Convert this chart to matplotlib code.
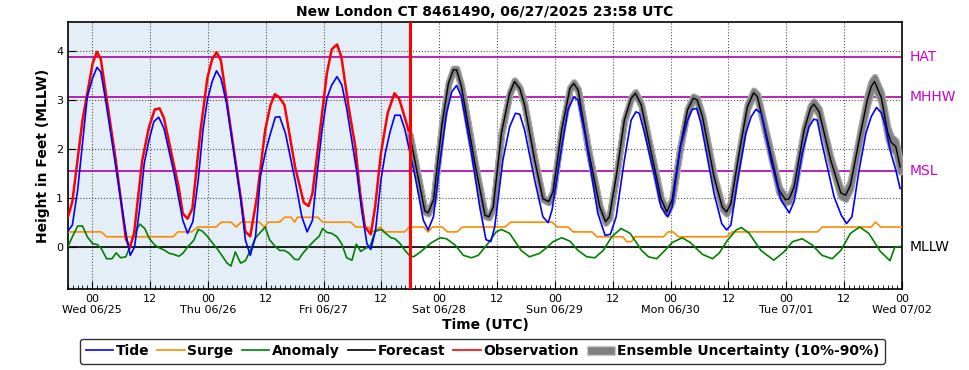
import matplotlib
matplotlib.use('Agg')
import matplotlib.pyplot as plt
from matplotlib.lines import Line2D
from matplotlib.patches import Patch
from matplotlib.ticker import MultipleLocator
import matplotlib.transforms as mtransforms

# Hours since Wed 06/25 00:00 UTC, values in feet above MLLW
obs_t = [-5, -4.1, -2.0, 0.1, 1.0, 1.8, 4.9, 7.0, 7.8, 8.7, 10.4, 11.8, 13.0, 14.0, 14.9,
         18.0, 18.8, 19.8, 20.8, 22.5, 23.9, 24.9, 25.8, 26.7, 29.7, 30.8, 31.8, 32.8,
         34.2, 35.9, 37.0, 37.9, 38.8, 39.9, 42.1, 43.9, 44.9, 45.7, 47.7, 48.7, 49.7,
         50.8, 51.7, 53.2, 54.6, 55.6, 56.6, 57.8, 58.7, 59.9, 61.3, 62.7, 63.7, 64.6,
         65.9, 67.5, 68.8]
obs_v = [0.61, 0.92, 2.59, 3.75, 3.99, 3.84, 1.77, 0.16, -0.03, 0.27, 1.77, 2.45, 2.81, 2.83, 2.63,
         1.19, 0.68, 0.57, 0.78, 2.39, 3.45, 3.84, 3.98, 3.82, 1.77, 1.02, 0.30, 0.21,
         1.02, 2.39, 2.90, 3.12, 3.06, 2.90, 1.63, 0.90, 0.83, 1.09, 2.73, 3.55, 4.04,
         4.14, 3.89, 2.86, 2.04, 1.09, 0.40, 0.25, 0.81, 1.91, 2.73, 3.14, 3.02, 2.73,
         2.28, 1.45, 0.78]

tide_t = [-5, -4.1, -3.0, -2.0, -1.0, 0.1, 1.0, 1.8, 2.8, 4.9, 7.0, 7.9, 8.8, 9.9, 10.8, 11.8,
          12.8, 13.8, 14.9, 17.0, 18.8, 19.8, 20.9, 22.0, 23.0, 23.9, 24.9, 25.8, 26.7, 27.9,
          30.8, 31.8, 32.8, 33.9, 34.9, 35.9, 36.8, 38.0, 38.9, 40.1, 42.1, 43.5, 44.6, 45.7,
          46.6, 47.7, 48.7, 49.7, 50.8, 51.8, 52.8, 54.9, 55.9, 57.0, 57.8, 58.8, 59.9, 60.8,
          61.8, 62.8, 63.9, 64.9, 67.0, 68.7, 69.7, 70.8, 72.2, 73.5, 74.6, 75.6, 76.6, 78.7,
          80.4, 81.7, 82.7, 83.5, 85.2, 86.6, 87.8, 88.7, 89.7, 91.8, 93.5, 94.6, 95.4, 97.4,
          98.7, 99.9, 100.8, 102.2, 104.9, 106.4, 107.5, 108.7, 110.4, 111.8, 112.8, 113.5,
          114.6, 116.7, 118.0, 119.4, 120.3, 122.0, 123.5, 124.5, 125.4, 126.3, 129.0, 130.6,
          131.6, 132.5, 133.9, 135.6, 136.7, 137.7, 138.8, 140.8, 142.9, 144.6, 145.6, 147.3,
          148.7, 149.7, 150.4, 151.4, 153.9, 155.4, 156.5, 157.6, 159.1, 160.5, 161.6, 162.7,
          163.7, 164.6, 165.5, 166.7, 167.6]
tide_v = [0.32, 0.44, 1.16, 2.11, 3.07, 3.45, 3.67, 3.58, 3.00, 1.63, 0.27, -0.18, -0.01, 0.81, 1.70, 2.18,
          2.56, 2.65, 2.42, 1.50, 0.54, 0.27, 0.51, 1.36, 2.39, 3.00, 3.38, 3.60, 3.45, 2.93,
          0.98, 0.13, -0.18, 0.20, 1.43, 1.91, 2.25, 2.65, 2.66, 2.32, 1.36, 0.61, 0.30, 0.54,
          1.43, 2.39, 3.04, 3.31, 3.48, 3.31, 2.83, 1.53, 0.75, 0.06, -0.06, 0.34, 1.36, 1.91,
          2.35, 2.69, 2.69, 2.39, 1.43, 0.54, 0.34, 0.61, 1.77, 2.73, 3.17, 3.30, 3.07, 1.91,
          0.81, 0.14, 0.10, 0.40, 1.77, 2.45, 2.73, 2.71, 2.39, 1.36, 0.61, 0.49, 0.75, 2.04,
          2.80, 3.06, 3.00, 2.32, 0.68, 0.23, 0.25, 0.61, 1.77, 2.59, 2.76, 2.73,
          2.32, 1.43, 0.81, 0.61, 0.81, 2.04, 2.59, 2.81, 2.83, 2.52, 1.09, 0.47,
          0.34, 0.44, 1.36, 2.32, 2.66, 2.81, 2.73, 1.77, 0.95, 0.69, 0.92, 1.91,
          2.45, 2.61, 2.59, 2.11, 1.02, 0.64, 0.47, 0.61, 1.57, 2.32, 2.66, 2.85,
          2.74, 2.45, 1.98, 1.57, 1.19]

surge_t = [-5, 1.9, 3.0, 16.8, 17.8, 20.6, 21.9, 25.7, 26.8, 28.8, 29.9, 30.9, 34.7, 35.7, 36.6,
           38.9, 39.9, 41.3, 42.0, 42.6, 46.8, 47.8, 53.6, 54.7, 57.3, 58.2, 59.8, 60.7, 64.8,
           65.8, 68.8, 69.7, 70.6, 72.6, 73.7, 75.7, 76.8, 85.7, 86.8, 95.4, 96.5, 98.7, 99.8,
           103.7, 104.7, 110.1, 110.9, 111.9, 112.6, 118.5, 119.5, 120.5, 121.6, 131.6, 132.8,
           150.5, 151.4, 161.6, 162.5, 163.6, 168]
surge_v = [0.3, 0.3, 0.2, 0.2, 0.3, 0.3, 0.4, 0.4, 0.5, 0.5, 0.4, 0.5, 0.5, 0.4, 0.5,
           0.5, 0.6, 0.6, 0.5, 0.6, 0.6, 0.5, 0.5, 0.4, 0.4, 0.3, 0.4, 0.3, 0.3,
           0.4, 0.4, 0.3, 0.4, 0.4, 0.3, 0.3, 0.4, 0.4, 0.5, 0.5, 0.4, 0.4, 0.3,
           0.3, 0.2, 0.2, 0.1, 0.1, 0.2, 0.2, 0.3, 0.3, 0.2, 0.2, 0.3,
           0.3, 0.4, 0.4, 0.5, 0.4, 0.4]

anom_t = [-5, -4.1, -3.0, -2.0, -1.0, 0.1, 1.1, 1.9, 3.0, 4.1, 5.0, 5.9, 7.0, 7.8, 8.8, 9.9,
          10.9, 11.9, 13.0, 14.0, 15.1, 16.0, 16.9, 18.0, 18.8, 19.8, 21.1, 22.0, 22.8, 23.9,
          24.9, 25.9, 26.9, 28.0, 28.8, 29.7, 30.8, 31.8, 32.8, 33.9, 34.9, 35.9, 36.8, 37.9,
          38.9, 39.9, 40.9, 42.0, 42.8, 43.7, 45.2, 46.3, 47.1, 47.8, 48.7, 49.7, 50.8, 51.8,
          52.8, 53.9, 54.8, 55.7, 56.8, 57.6, 58.7, 59.9, 60.9, 62.0, 62.8, 63.9, 64.9, 65.9,
          66.7, 68.1, 70.4, 72.2, 73.5, 75.3, 77.0, 78.7, 80.1, 82.1, 83.8, 84.9, 86.6, 89.0,
          90.7, 92.8, 94.2, 95.6, 97.4, 99.1, 100.8, 102.6, 104.3, 106.0, 107.8, 109.7, 111.6,
          114.0, 115.4, 117.1, 118.8, 120.3, 122.4, 124.1, 126.6, 128.7, 130.1, 131.8, 133.6,
          134.7, 136.3, 138.7, 141.4, 143.5, 145.3, 147.3, 149.4, 151.4, 153.5, 155.3, 157.3,
          159.2, 161.1, 163.5, 165.5, 166.5, 167.6]
anom_v = [0.0, 0.2, 0.42, 0.42, 0.2, 0.06, 0.04, -0.04, -0.25, -0.25, -0.13, -0.23, -0.21, -0.01, 0.27, 0.46,
          0.37, 0.16, 0.03, -0.03, -0.08, -0.14, -0.16, -0.2, -0.14, -0.01, 0.13, 0.35, 0.32, 0.21,
          0.08, -0.04, -0.18, -0.34, -0.40, -0.11, -0.34, -0.29, -0.08, 0.18, 0.29, 0.40, 0.14, 0.01,
          -0.08, -0.08, -0.14, -0.26, -0.27, -0.14, 0.03, 0.14, 0.21, 0.37, 0.29, 0.27, 0.2, 0.05,
          -0.23, -0.28, 0.05, -0.1, -0.03, -0.01, 0.31, 0.35, 0.27, 0.18, 0.16, 0.06, -0.08, -0.19,
          -0.21, -0.11, 0.08, 0.18, 0.16, 0.03, -0.18, -0.23, -0.18, 0.06, 0.30, 0.35, 0.27, -0.08,
          -0.21, -0.14, -0.03, 0.10, 0.18, 0.11, -0.08, -0.21, -0.23, -0.08, 0.2, 0.37, 0.27,
          -0.08, -0.21, -0.25, -0.08, 0.08, 0.18, 0.08, -0.16, -0.25, -0.13, 0.13, 0.34,
          0.39, 0.27, -0.08, -0.28, -0.11, 0.10, 0.16, 0.03, -0.18, -0.25, -0.08, 0.27,
          0.40, 0.27, -0.1, -0.29, -0.01, 0.0]

fc_t = [65.9, 69.0, 69.7, 70.8, 72.5, 73.9, 74.9, 75.6, 76.6, 79.4, 81.5, 82.3, 83.2, 84.9,
        86.6, 87.6, 88.7, 89.7, 91.8, 93.5, 94.7, 95.6, 97.4, 99.1, 99.9, 100.8, 102.8, 105.3,
        106.5, 107.3, 108.7, 110.4, 111.8, 112.7, 113.9, 116.0, 118.0, 119.2, 120.3, 122.0,
        123.5, 124.7, 125.5, 126.6, 129.0, 130.7, 131.6, 132.5, 134.2, 135.9, 137.2, 138.0,
        140.1, 142.5, 143.8, 144.6, 145.6, 147.7, 149.0, 149.7, 150.8, 153.2, 155.3, 156.3,
        157.3, 159.1, 160.8, 161.6, 162.3, 163.7, 165.0, 165.7, 166.7, 167.6]
fc_v = [2.28, 0.73, 0.69, 0.95, 2.45, 3.34, 3.62, 3.62, 3.28, 1.70, 0.64, 0.61, 0.81, 2.32,
        3.14, 3.38, 3.24, 2.90, 1.77, 0.98, 0.92, 1.12, 2.39, 3.24, 3.34, 3.21, 2.04, 0.81,
        0.51, 0.61, 1.43, 2.59, 3.04, 3.14, 2.90, 1.91, 0.98, 0.71, 0.95, 2.04,
        2.80, 3.04, 3.00, 2.66, 1.43, 0.81, 0.71, 0.88, 1.91, 2.86, 3.15, 3.07,
        2.18, 1.16, 0.96, 0.98, 1.22, 2.39, 2.83, 2.92, 2.76, 1.77, 1.10, 1.05,
        1.26, 2.18, 3.00, 3.28, 3.38, 3.05, 2.35, 2.14, 2.05, 1.63]
# half width of the 10%-90% band around the forecast
fc_spread = [0.02, 0.02, 0.02, 0.02, 0.02, 0.02, 0.03, 0.03, 0.02, 0.02, 0.02, 0.02, 0.02, 0.02,
             0.02, 0.03, 0.02, 0.02, 0.02, 0.02, 0.02, 0.02, 0.02, 0.02, 0.03, 0.02, 0.02, 0.02,
             0.03, 0.03, 0.02, 0.02, 0.02, 0.03, 0.02, 0.02, 0.03, 0.03, 0.03, 0.02,
             0.03, 0.04, 0.04, 0.03, 0.03, 0.04, 0.04, 0.04, 0.04, 0.05, 0.05, 0.05,
             0.05, 0.06, 0.06, 0.06, 0.06, 0.05, 0.06, 0.06, 0.06, 0.06, 0.08, 0.08,
             0.08, 0.08, 0.1, 0.1, 0.1, 0.1, 0.1, 0.12, 0.12, 0.1]

datum_names = ['HAT', 'MHHW', 'MSL']
datum_vals = [3.88, 3.06, 1.54]
days = ['Wed 06/25', 'Thu 06/26', 'Fri 06/27', 'Sat 06/28', 'Sun 06/29', 'Mon 06/30',
        'Tue 07/01', 'Wed 07/02']
now_hour = 65.9

fig = plt.figure(figsize=(9.69, 3.70), dpi=100)
ax = fig.add_axes([0.0702, 0.2189, 0.8607, 0.7216])

ax.axvspan(-5, now_hour, color='#e3eef6', zorder=0)

ax.grid(True, which='major', linestyle=':', color='#555555', linewidth=0.8, zorder=1)

for v in datum_vals:
    ax.axhline(v, color='#aa00aa', linewidth=1.2, zorder=2)
ax.axhline(0, color='black', linewidth=1.2, zorder=2)

ax.plot(surge_t, surge_v, color='#ff8c00', linewidth=1.2, zorder=3)
ax.plot(anom_t, anom_v, color='green', linewidth=1.2, zorder=3)
ax.plot(obs_t, obs_v, color='red', linewidth=1.8, zorder=4)

lo = [f - s for f, s in zip(fc_v, fc_spread)]
hi = [f + s for f, s in zip(fc_v, fc_spread)]
ax.fill_between(fc_t, lo, hi, facecolor='#a8a8a8', edgecolor='#a8a8a8', linewidth=4.8, zorder=5)
ax.fill_between(fc_t, lo, hi, facecolor='#808080', edgecolor='#808080', linewidth=3.0, zorder=5)
ax.plot(fc_t, fc_v, color='black', linewidth=1.0, zorder=6)
ax.plot(tide_t, tide_v, color='blue', linewidth=1.2, zorder=6)

ax.axvline(now_hour, color='red', linewidth=2.2, zorder=7)

ax.set_xlim(-5, 168)
ax.set_ylim(-0.87, 4.6)

major = list(range(0, 169, 12))
labels = []
for h in major:
    if h % 24 == 0:
        labels.append('00\n' + days[h // 24])
    else:
        labels.append('12')
ax.set_xticks(major)
ax.set_xticklabels(labels, fontsize=8)
ax.xaxis.set_minor_locator(MultipleLocator(1))
ax.set_yticks([0, 1, 2, 3, 4])
ax.tick_params(axis='both', which='major', direction='in', length=6, labelsize=8)
ax.tick_params(axis='x', which='minor', direction='in', length=3)
for sp in ax.spines.values():
    sp.set_linewidth(1.2)

ax.set_title('New London CT 8461490, 06/27/2025 23:58 UTC', fontsize=10, fontweight='bold', pad=4)
ax.set_ylabel('Height in Feet (MLLW)', fontsize=10, fontweight='bold')
ax.set_xlabel('Time (UTC)', fontsize=10, fontweight='bold', labelpad=2)

trans = mtransforms.blended_transform_factory(ax.transAxes, ax.transData)
for name, v in zip(datum_names, datum_vals):
    ax.text(1.0096, v, name, transform=trans, color='#cc00cc', fontsize=10, ha='left', va='center')
ax.text(1.0096, 0, 'MLLW', transform=trans, color='black', fontsize=10, ha='left', va='center')

handles = [Line2D([], [], color='blue', lw=1.2), Line2D([], [], color='#ff8c00', lw=1.2),
           Line2D([], [], color='green', lw=1.2), Line2D([], [], color='black', lw=1.2),
           Line2D([], [], color='red', lw=1.2), Patch(facecolor='gray', edgecolor='#cccccc')]
names = ['Tide', 'Surge', 'Anomaly', 'Forecast', 'Observation', 'Ensemble Uncertainty (10%-90%)']
leg = ax.legend(handles, names, loc='upper center', bbox_to_anchor=(0.497, -0.16), ncol=6,
                prop={'weight': 'bold', 'size': 10}, handlelength=2.0, handletextpad=0.15,
                columnspacing=0.6, borderpad=0.4, frameon=True, fancybox=True)
leg.get_frame().set_edgecolor('black')
leg.get_frame().set_linewidth(1.0)

plt.savefig('out.png', dpi=100)
